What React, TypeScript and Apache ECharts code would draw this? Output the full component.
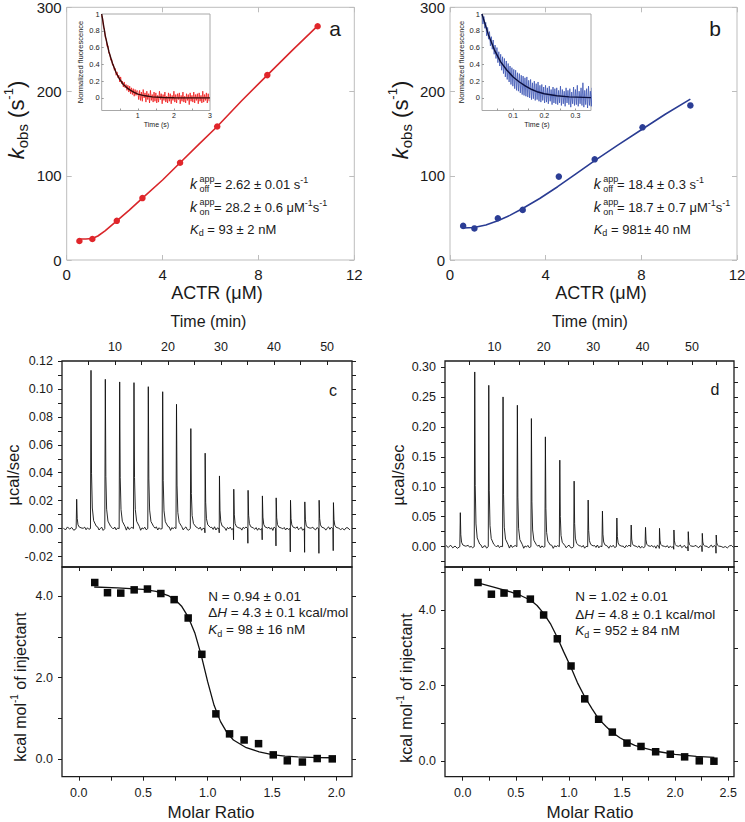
import React, { useEffect, useRef } from "react";
import * as echarts from "echarts";

const FONT = '"Liberation Sans", Arial, Helvetica, sans-serif';

// ---------- Panel a : kobs vs ACTR ----------
const actrA = [0.53, 1.07, 2.09, 3.16, 4.73, 6.28, 8.37, 10.47];
const kobsA = [22.5, 25, 46.5, 73.5, 115.5, 158.5, 219.5, 277.5];
const fitActrA = [0.53, 0.8, 1.07, 1.3, 1.6, 2.09, 2.6, 3.16, 4.0, 4.73, 5.5, 6.28, 7.3, 8.37, 9.4, 10.47];
const fitKobsA = [25, 25, 25.5, 28.5, 34.5, 46.5, 59, 73.5, 95, 115.5, 137, 158.5, 189, 219.5, 248.5, 278];

// ---------- Panel b ----------
const actrB = [0.55, 1.02, 2.0, 3.04, 4.55, 6.05, 8.05, 10.05];
const kobsB = [40.5, 37.5, 49.5, 59.5, 99, 119.5, 157.5, 183.5];
const fitActrB = [0.55, 1.0, 1.5, 2.0, 2.5, 3.0, 3.75, 4.5, 5.25, 6.05, 7.0, 8.05, 9.0, 10.05];
const fitKobsB = [38, 38.5, 41.5, 46.5, 53, 60.5, 73, 87, 102, 118, 136, 155.5, 173, 191];

// ---------- Inset a : normalized fluorescence trace (time step 0.025 s) ----------
const insetAStep = 0.025;
const insetATrace = [
  0.98, 0.95, 0.84, 0.82, 0.72, 0.70, 0.61, 0.62, 0.53, 0.52, 0.45, 0.46, 0.39, 0.40, 0.33, 0.35, 0.27, 0.31, 0.24, 0.27,
  0.19, 0.25, 0.17, 0.20, 0.13, 0.19, 0.12, 0.16, 0.09, 0.15, 0.07, 0.14, 0.05, 0.12, 0.04, 0.11, 0.02, 0.10, 0.03, 0.09,
  0.08, -0.02, 0.09, -0.03, 0.07, -0.04, 0.10, 0.00, 0.06, -0.05, 0.08, -0.02, 0.05, -0.06, 0.09, -0.03, 0.04, -0.05, 0.07, -0.04,
  0.06, -0.06, 0.03, -0.05, 0.08, -0.02, 0.05, -0.07, 0.04, -0.03, 0.07, -0.05, 0.02, -0.06, 0.06, -0.04, 0.05, -0.07, 0.03, -0.03,
  0.08, -0.05, 0.04, -0.06, 0.05, -0.02, 0.06, -0.07, 0.03, -0.04, 0.07, -0.05, 0.02, -0.06, 0.05, -0.03, 0.04, -0.08, 0.06, -0.04,
  0.03, -0.05, 0.07, -0.06, 0.04, -0.03, 0.05, -0.07, 0.06, -0.04, 0.03, -0.06, 0.08, -0.05, 0.04, -0.03, 0.06, -0.06, 0.05, -0.04,
];
const insetAFitT = [0, 0.1, 0.2, 0.3, 0.4, 0.5, 0.6, 0.7, 0.8, 0.9, 1.0, 1.2, 1.4, 1.7, 2.0, 3.0];
const insetAFitY = [1.0, 0.74, 0.55, 0.41, 0.3, 0.22, 0.16, 0.12, 0.09, 0.065, 0.045, 0.025, 0.012, 0.005, 0.002, 0];

// ---------- Inset b (time step 0.003 s) ----------
const insetBStep = 0.003;
const insetBTrace = [
  1.00, 0.88, 0.97, 0.83, 0.90, 0.74, 0.84, 0.70, 0.79, 0.62, 0.73, 0.58, 0.69, 0.52, 0.63, 0.47, 0.60, 0.42, 0.55, 0.38,
  0.52, 0.33, 0.49, 0.29, 0.47, 0.25, 0.44, 0.22, 0.41, 0.19, 0.38, 0.16, 0.36, 0.14, 0.34, 0.11, 0.33, 0.09, 0.30, 0.08,
  0.29, 0.06, 0.27, 0.04, 0.26, 0.03, 0.24, 0.02, 0.25, 0.01, 0.21, 0.00, 0.22, -0.02, 0.18, -0.01, 0.20, -0.03, 0.17, -0.02,
  0.19, -0.04, 0.15, -0.05, 0.16, -0.03, 0.13, -0.06, 0.15, -0.05, 0.12, -0.07, 0.14, -0.04, 0.10, -0.08, 0.13, -0.06, 0.11, -0.07,
  0.12, -0.08, 0.09, -0.06, 0.14, -0.09, 0.10, -0.07, 0.08, -0.10, 0.12, -0.06, 0.09, -0.08, 0.11, -0.11, 0.07, -0.07, 0.13, -0.09,
  0.10, -0.08, 0.15, -0.10, 0.08, -0.07, 0.12, -0.09, 0.18, -0.11, 0.09, -0.08, 0.11, -0.12, 0.14, -0.09, 0.08, -0.10, 0.12, -0.08,
];
const insetBFitT = [0, 0.02, 0.04, 0.06, 0.08, 0.1, 0.12, 0.14, 0.16, 0.18, 0.2, 0.24, 0.28, 0.35];
const insetBFitY = [1.0, 0.76, 0.57, 0.43, 0.33, 0.25, 0.19, 0.14, 0.1, 0.07, 0.05, 0.025, 0.012, 0.004];

// ---------- Panel c : ITC raw (injection times, peak heights, dips) ----------
const itcCTimes = [2.77, 5.47, 8.17, 10.88, 13.58, 16.28, 18.99, 21.6, 24.3, 27.0, 29.7, 32.4, 35.1, 37.8, 40.4, 43.1, 45.8, 48.5, 51.2];
const itcCPeaks = [0.021, 0.1133, 0.1069, 0.105, 0.1045, 0.1016, 0.098, 0.089, 0.0716, 0.054, 0.0377, 0.0282, 0.0274, 0.0234, 0.022, 0.0203, 0.0191, 0.0203, 0.0186];
const itcCDips = [0, 0, 0, 0, 0, 0, 0, 0, 0, -0.003, -0.003, -0.008, -0.0105, -0.008, -0.0124, -0.0167, -0.017, -0.0177, -0.0158];
const itcCNoise = [
  0.0005, -0.001, 0.0012, -0.0004, 0.0008, -0.0012, 0.0003, 0.001, -0.0008, 0.0006,
  -0.0005, 0.0012, -0.001, 0.0002, 0.0009, -0.0013, 0.0007, -0.0003, 0.0011, -0.0009,
  0.0004, -0.0011, 0.0013, -0.0006, 0.0002, 0.0009, -0.0012, 0.0005, -0.0002, 0.001,
  -0.0008, 0.0003, 0.0012, -0.001, 0.0006, -0.0004, 0.0011, -0.0013, 0.0007, -0.0001,
  0.0008, -0.0009, 0.0004, 0.0012, -0.0007, -0.0011, 0.0006, -0.0003, 0.001, -0.0012,
  0.0002, 0.0009, -0.0006, 0.0013, -0.001, 0.0005, -0.0013, 0.0008, -0.0002, 0.0011,
  -0.0007, 0.0004, -0.0011, 0.0009, 0.0001, 0.0012, -0.0005, 0.0007, -0.0012, 0.0003,
  -0.0009, 0.001, -0.0004, 0.0006, -0.0013, 0.0011, -0.0002, 0.0008, -0.001, 0.0004,
  -0.0006, 0.0013, -0.0008, 0.0002, 0.0009, -0.0012, 0.0005, 0.001, -0.0003, -0.0009,
  0.0007, -0.0011, 0.0003, 0.0012, -0.0005, 0.0009, -0.0007, 0.0001, -0.001, 0.0006,
];
// Panel c : integrated heats
const molarC = [0.124, 0.223, 0.326, 0.43, 0.533, 0.637, 0.74, 0.849, 0.955, 1.064, 1.17, 1.283, 1.395, 1.509, 1.618, 1.735, 1.85, 1.967];
const heatC = [4.33, 4.08, 4.07, 4.15, 4.17, 4.06, 3.91, 3.46, 2.57, 1.11, 0.62, 0.47, 0.38, 0.105, -0.04, -0.07, 0.015, 0.007];
const fitMolarC = [0.12, 0.3, 0.5, 0.6, 0.7, 0.75, 0.8, 0.85, 0.9, 0.95, 1.0, 1.05, 1.1, 1.15, 1.2, 1.3, 1.4, 1.5, 1.6, 1.7, 1.85, 1.97];
const fitHeatC = [4.22, 4.2, 4.16, 4.11, 4.0, 3.9, 3.74, 3.48, 3.1, 2.55, 1.9, 1.32, 0.92, 0.65, 0.47, 0.28, 0.18, 0.11, 0.075, 0.055, 0.04, 0.035];

// ---------- Panel d ----------
const itcDTimes = [3.1, 6.02, 8.86, 11.75, 14.65, 17.49, 20.32, 23.24, 26.14, 28.98, 31.87, 34.79, 37.69, 40.59, 43.42, 46.34, 49.24, 52.08, 54.9];
const itcDPeaks = [0.0567, 0.2917, 0.2694, 0.25, 0.2361, 0.2139, 0.1833, 0.1444, 0.1094, 0.0778, 0.0594, 0.0478, 0.0361, 0.0322, 0.0306, 0.0278, 0.025, 0.0222, 0.0194];
const itcDDips = [0, 0, 0, 0, 0, 0, 0, 0, 0, 0, 0, 0, 0, 0, -0.003, -0.0044, -0.0072, -0.0083, -0.011];
const itcDNoise = [
  0.002, -0.0015, 0.0025, -0.002, 0.001, -0.0028, 0.0012, 0.0022, -0.001, 0.0005,
  -0.0018, 0.0026, -0.0022, 0.0008, 0.0015, -0.0025, 0.0018, -0.0006, 0.0024, -0.0016,
  0.0006, -0.0024, 0.0028, -0.0012, 0.0004, 0.0019, -0.0027, 0.0011, -0.0005, 0.0021,
  -0.0017, 0.0007, 0.0026, -0.0021, 0.0013, -0.0009, 0.0023, -0.0028, 0.0015, -0.0003,
  0.0017, -0.0019, 0.0009, 0.0025, -0.0014, -0.0023, 0.0012, -0.0007, 0.002, -0.0026,
  0.0004, 0.0019, -0.0013, 0.0027, -0.002, 0.001, -0.0027, 0.0016, -0.0004, 0.0023,
  -0.0015, 0.0008, -0.0022, 0.0019, 0.0002, 0.0025, -0.001, 0.0014, -0.0025, 0.0006,
  -0.0019, 0.0021, -0.0008, 0.0012, -0.0027, 0.0023, -0.0004, 0.0017, -0.0021, 0.0009,
  -0.0012, 0.0027, -0.0016, 0.0004, 0.0019, -0.0025, 0.001, 0.0021, -0.0006, -0.0018,
  0.0015, -0.0023, 0.0007, 0.0025, -0.001, 0.0019, -0.0014, 0.0002, -0.0021, 0.0012,
];
const molarD = [0.144, 0.27, 0.389, 0.511, 0.637, 0.762, 0.891, 1.02, 1.149, 1.28, 1.409, 1.547, 1.679, 1.817, 1.955, 2.09, 2.228, 2.366];
const heatD = [4.73, 4.42, 4.45, 4.43, 4.29, 3.87, 3.24, 2.52, 1.65, 1.11, 0.77, 0.48, 0.39, 0.25, 0.185, 0.115, 0.01, 0.0];
const fitMolarD = [0.144, 0.3, 0.45, 0.55, 0.64, 0.7, 0.76, 0.83, 0.89, 0.95, 1.02, 1.08, 1.15, 1.22, 1.28, 1.35, 1.41, 1.48, 1.55, 1.62, 1.7, 1.85, 2.0, 2.2, 2.37];
const fitHeatD = [4.72, 4.6, 4.48, 4.38, 4.26, 4.12, 3.92, 3.62, 3.28, 2.9, 2.48, 2.08, 1.7, 1.38, 1.12, 0.92, 0.76, 0.62, 0.51, 0.42, 0.35, 0.25, 0.18, 0.13, 0.1];

// ---------- helpers ----------
const zip = (xs: number[], ys: number[]) => xs.map((x, i) => [x, ys[i]]);
const stepped = (ys: number[], step: number) => ys.map((y, i) => [+(i * step).toFixed(4), y]);

// decay shape of an injection peak after its maximum: [minutes after peak, fraction of peak]
const PEAK_TAIL = [[0.1, 0.35], [0.25, 0.13], [0.5, 0.05], [1.0, 0.015]];

function buildItcTrace(times: number[], peaks: number[], dips: number[], noise: number[], tStart: number, tEnd: number) {
  const pts: number[][] = [];
  let k = 0;
  const nz = () => noise[k++ % noise.length];
  const gap = (a: number, b: number) => {
    const n = 5;
    for (let j = 1; j <= n; j++) pts.push([a + ((b - a) * j) / (n + 1), nz()]);
  };
  pts.push([tStart, nz()]);
  let prev = tStart;
  times.forEach((t, i) => {
    gap(prev, t - 0.15);
    pts.push([t - 0.1, 0]);
    if (dips[i] < 0) pts.push([t - 0.04, dips[i]]);
    pts.push([t, peaks[i]]);
    PEAK_TAIL.forEach(([dt, f]) => pts.push([t + dt, peaks[i] * f]));
    prev = t + 1.0;
  });
  gap(prev, tEnd);
  pts.push([tEnd, nz()]);
  return pts;
}

const GRAY = "#bdbdbd";
const DARK = "#1c1c1c";
const TXT = "#1a1a1a";

function grid(left: number, top: number, width: number, height: number, color: string, bw: number, bg = "transparent") {
  return { left, top, width, height, show: true, borderColor: color, borderWidth: bw, backgroundColor: bg, containLabel: false, outerBoundsMode: "none" };
}

function axis(o: any) {
  return {
    type: "value",
    gridIndex: o.grid,
    position: o.pos,
    min: o.min,
    max: o.max,
    ...(o.interval ? { interval: o.interval } : {}),
    axisLine: { show: false, onZero: false },
    splitLine: { show: false },
    axisTick: {
      show: o.tickShow !== false,
      inside: !!o.inside,
      length: o.tickLen ?? 4,
      lineStyle: { color: o.tickColor ?? DARK, width: 1 },
      ...(o.ticks ? { customValues: o.ticks } : {}),
    },
    axisLabel: {
      show: !!o.labelShow,
      ...(o.labels ? { customValues: o.labels } : {}),
      ...(o.fmt ? { formatter: o.fmt } : {}),
      margin: o.margin ?? 6,
      color: TXT,
      fontSize: o.fontSize ?? 12,
      fontFamily: FONT,
      hideOverlap: false,
      showMinLabel: true,
      showMaxLabel: true,
    },
  };
}

function txt(x: number, y: number, text: string, o: any = {}) {
  return {
    type: "text",
    x,
    y,
    rotation: o.rotation ?? 0,
    silent: true,
    style: {
      text,
      fill: o.color ?? TXT,
      fontSize: o.fontSize ?? 13,
      fontFamily: FONT,
      fontStyle: o.fontStyle ?? "normal",
      align: o.align ?? "left",
      textAlign: o.align ?? "left",
      verticalAlign: "middle",
      textVerticalAlign: "middle",
      lineHeight: o.lineHeight ?? Math.round((o.fontSize ?? 13) * 1.3),
      rich: o.rich ?? {},
    },
  };
}

function richFor(size: number, color = TXT) {
  const lh = Math.round(size * 1.3);
  const small = Math.round(size * 0.68);
  return {
    i: { fontStyle: "italic", fontSize: size, fontFamily: FONT, fill: color, color, lineHeight: lh },
    sup: { fontSize: small, fontFamily: FONT, fill: color, color, verticalAlign: "top", lineHeight: small },
    sub: { fontSize: small, fontFamily: FONT, fill: color, color, verticalAlign: "bottom", lineHeight: small },
  };
}

function kineticAnnot(x0: number, eqX: number, y1: number, y2: number, y3: number, l1: string, l2: string, l3: string) {
  const r = richFor(13);
  const s = { fontSize: 9 };
  return [
    txt(x0, y1, "k", { fontSize: 14, fontStyle: "italic" }),
    txt(x0 + 9.5, y1 - 5, "app", s),
    txt(x0 + 9.5, y1 + 5, "off", s),
    txt(eqX, y1, l1, { rich: r }),
    txt(x0, y2, "k", { fontSize: 14, fontStyle: "italic" }),
    txt(x0 + 9.5, y2 - 5, "app", s),
    txt(x0 + 9.5, y2 + 5, "on", s),
    txt(eqX, y2, l2, { rich: r }),
    txt(x0, y3, "{i|K}{sub|d} " + l3, { rich: r }),
  ];
}

function buildOption() {
  const RED = "#e0262b";
  const RED_LINE = "#d9262a";
  const BLUE = "#2b3d95";
  const BLUE_LINE = "#2a3c93";

  const grids = [
    grid(66.7, 7.3, 287.6, 252.7, GRAY, 1), // 0 a
    grid(101.7, 14, 108.3, 96.5, "#a8a8a8", 1, "#fff"), // 1 a inset
    grid(450, 7.3, 287, 252.7, GRAY, 1), // 2 b
    grid(482, 14, 109, 96.5, "#a8a8a8", 1, "#fff"), // 3 b inset
    grid(62, 361, 290, 206, DARK, 1.3), // 4 c top
    grid(62, 567, 290, 209.7, DARK, 1.3), // 5 c bottom
    grid(445, 361, 289, 206, DARK, 1.3), // 6 d top
    grid(445, 567, 289, 209.7, DARK, 1.3), // 7 d bottom
  ];

  const fmt2 = (v: number) => v.toFixed(2);
  const fmt1 = (v: number) => v.toFixed(1);
  const insetYFmt = (v: number) => (Math.abs(v) < 1e-9 ? "0" : Math.abs(v - 1) < 1e-9 ? "1" : v.toFixed(1));

  const xAxis = [
    axis({ grid: 0, pos: "bottom", min: 0, max: 12, interval: 4, inside: true, tickLen: 5, tickColor: GRAY, labelShow: true, fontSize: 15, margin: 7 }), // 0
    axis({ grid: 0, pos: "top", min: 0, max: 12, interval: 4, inside: true, tickLen: 5, tickColor: GRAY }), // 1
    axis({ grid: 1, pos: "bottom", min: 0, max: 3, labels: [1, 2, 3], ticks: [0.5, 1, 1.5, 2, 2.5], inside: true, tickLen: 2, tickColor: "#999", labelShow: true, fontSize: 7, margin: 1 }), // 2
    axis({ grid: 2, pos: "bottom", min: 0, max: 12, interval: 4, inside: true, tickLen: 5, tickColor: GRAY, labelShow: true, fontSize: 15, margin: 7 }), // 3
    axis({ grid: 2, pos: "top", min: 0, max: 12, interval: 4, inside: true, tickLen: 5, tickColor: GRAY }), // 4
    axis({ grid: 3, pos: "bottom", min: 0, max: 0.35, labels: [0.1, 0.2, 0.3], ticks: [0.05, 0.1, 0.15, 0.2, 0.25, 0.3], inside: true, tickLen: 2, tickColor: "#999", labelShow: true, fontSize: 7, margin: 1, fmt: (v: number) => v.toFixed(1) }), // 5
    axis({ grid: 4, pos: "top", min: 0, max: 54.7, labels: [10, 20, 30, 40, 50], ticks: [5, 10, 15, 20, 25, 30, 35, 40, 45, 50], inside: true, tickLen: 4, labelShow: true, fontSize: 12.5, margin: 8 }), // 6
    axis({ grid: 5, pos: "bottom", min: -0.13, max: 2.12, labels: [0, 0.5, 1, 1.5, 2], ticks: [0, 0.25, 0.5, 0.75, 1, 1.25, 1.5, 1.75, 2], inside: false, tickLen: 4, labelShow: true, fontSize: 12.5, margin: 10, fmt: fmt1 }), // 7
    axis({ grid: 5, pos: "top", min: -0.13, max: 2.12, ticks: [0, 0.25, 0.5, 0.75, 1, 1.25, 1.5, 1.75, 2], inside: true, tickLen: 4 }), // 8
    axis({ grid: 6, pos: "top", min: 0, max: 58.5, labels: [10, 20, 30, 40, 50], ticks: [5, 10, 15, 20, 25, 30, 35, 40, 45, 50, 55], inside: true, tickLen: 4, labelShow: true, fontSize: 12.5, margin: 8 }), // 9
    axis({ grid: 7, pos: "bottom", min: -0.167, max: 2.555, labels: [0, 0.5, 1, 1.5, 2, 2.5], ticks: [0, 0.25, 0.5, 0.75, 1, 1.25, 1.5, 1.75, 2, 2.25, 2.5], inside: false, tickLen: 4, labelShow: true, fontSize: 12.5, margin: 10, fmt: fmt1 }), // 10
    axis({ grid: 7, pos: "top", min: -0.167, max: 2.555, ticks: [0, 0.25, 0.5, 0.75, 1, 1.25, 1.5, 1.75, 2, 2.25, 2.5], inside: true, tickLen: 4 }), // 11
  ];

  const cTopTicks = [-0.02, -0.01, 0, 0.01, 0.02, 0.03, 0.04, 0.05, 0.06, 0.07, 0.08, 0.09, 0.1, 0.11, 0.12];
  const dTopTicks = [-0.025, 0, 0.025, 0.05, 0.075, 0.1, 0.125, 0.15, 0.175, 0.2, 0.225, 0.25, 0.275, 0.3];

  const yAxis = [
    axis({ grid: 0, pos: "left", min: 0, max: 300, interval: 100, inside: true, tickLen: 5, tickColor: GRAY, labelShow: true, fontSize: 15, margin: 5 }), // 0
    axis({ grid: 0, pos: "right", min: 0, max: 300, interval: 100, inside: true, tickLen: 5, tickColor: GRAY }), // 1
    axis({ grid: 1, pos: "left", min: -0.15, max: 1, labels: [0, 0.2, 0.4, 0.6, 0.8, 1], ticks: [0, 0.2, 0.4, 0.6, 0.8], inside: true, tickLen: 2, tickColor: "#999", labelShow: true, fontSize: 7.5, margin: 2, fmt: insetYFmt }), // 2
    axis({ grid: 2, pos: "left", min: 0, max: 300, interval: 100, inside: true, tickLen: 5, tickColor: GRAY, labelShow: true, fontSize: 15, margin: 5 }), // 3
    axis({ grid: 2, pos: "right", min: 0, max: 300, interval: 100, inside: true, tickLen: 5, tickColor: GRAY }), // 4
    axis({ grid: 3, pos: "left", min: -0.15, max: 1, labels: [0, 0.2, 0.4, 0.6, 0.8, 1], ticks: [0, 0.2, 0.4, 0.6, 0.8], inside: true, tickLen: 2, tickColor: "#999", labelShow: true, fontSize: 7.5, margin: 2, fmt: insetYFmt }), // 5
    axis({ grid: 4, pos: "left", min: -0.0275, max: 0.12, labels: [-0.02, 0, 0.02, 0.04, 0.06, 0.08, 0.1, 0.12], ticks: cTopTicks, inside: false, tickLen: 4, labelShow: true, fontSize: 12.5, margin: 9, fmt: fmt2 }), // 6
    axis({ grid: 4, pos: "right", min: -0.0275, max: 0.12, ticks: cTopTicks, inside: false, tickLen: 4 }), // 7
    axis({ grid: 5, pos: "left", min: -0.43, max: 4.71, labels: [0, 2, 4], ticks: [0, 1, 2, 3, 4], inside: false, tickLen: 4, labelShow: true, fontSize: 12.5, margin: 9, fmt: fmt1 }), // 8
    axis({ grid: 5, pos: "right", min: -0.43, max: 4.71, ticks: [0, 1, 2, 3, 4], inside: false, tickLen: 4 }), // 9
    axis({ grid: 6, pos: "left", min: -0.034, max: 0.31, labels: [0, 0.05, 0.1, 0.15, 0.2, 0.25, 0.3], ticks: dTopTicks, inside: false, tickLen: 4, labelShow: true, fontSize: 12.5, margin: 9, fmt: fmt2 }), // 10
    axis({ grid: 6, pos: "right", min: -0.034, max: 0.31, ticks: dTopTicks, inside: false, tickLen: 4 }), // 11
    axis({ grid: 7, pos: "left", min: -0.41, max: 5.14, labels: [0, 2, 4], ticks: [0, 1, 2, 3, 4, 5], inside: false, tickLen: 4, labelShow: true, fontSize: 12.5, margin: 9, fmt: fmt1 }), // 12
    axis({ grid: 7, pos: "right", min: -0.41, max: 5.14, ticks: [0, 1, 2, 3, 4, 5], inside: false, tickLen: 4 }), // 13
  ];

  const line = (xi: number, yi: number, data: number[][], color: string, width: number, z = 2) => ({
    type: "line",
    xAxisIndex: xi,
    yAxisIndex: yi,
    data,
    symbol: "none",
    showSymbol: false,
    smooth: false,
    clip: true,
    z,
    lineStyle: { color, width },
    silent: true,
  });
  const scatter = (xi: number, yi: number, data: number[][], color: string, symbol: string, size: number) => ({
    type: "scatter",
    xAxisIndex: xi,
    yAxisIndex: yi,
    data,
    symbol,
    symbolSize: size,
    itemStyle: { color, opacity: 1 },
    z: 3,
    silent: true,
  });

  const series = [
    line(0, 0, zip(fitActrA, fitKobsA), RED_LINE, 1.6),
    scatter(0, 0, zip(actrA, kobsA), RED, "circle", 6.5),
    line(2, 2, stepped(insetATrace, insetAStep), "#f01c1c", 0.8, 4),
    line(2, 2, zip(insetAFitT, insetAFitY), "#3a0a0a", 1.4, 5),
    line(3, 3, zip(fitActrB, fitKobsB), BLUE_LINE, 1.6),
    scatter(3, 3, zip(actrB, kobsB), BLUE, "circle", 6.5),
    line(5, 5, stepped(insetBTrace, insetBStep), "#3c55b5", 0.8, 4),
    line(5, 5, zip(insetBFitT, insetBFitY), "#0b1040", 1.4, 5),
    line(6, 6, buildItcTrace(itcCTimes, itcCPeaks, itcCDips, itcCNoise, 0.25, 54.3), "#111", 0.9),
    line(7, 8, zip(fitMolarC, fitHeatC), "#111", 1.3),
    scatter(7, 8, zip(molarC, heatC), "#0a0a0a", "rect", 7.5),
    line(9, 10, buildItcTrace(itcDTimes, itcDPeaks, itcDDips, itcDNoise, 0.2, 58.4), "#111", 0.9),
    line(10, 12, zip(fitMolarD, fitHeatD), "#111", 1.3),
    scatter(10, 12, zip(molarD, heatD), "#0a0a0a", "rect", 7.5),
  ];

  const r20 = {
    i: { fontStyle: "italic", fontSize: 22, fontFamily: FONT, fill: TXT, color: TXT, lineHeight: 28 },
    sub: { fontSize: 15, fontFamily: FONT, fill: TXT, color: TXT, verticalAlign: "bottom", lineHeight: 16 },
    sup: { fontSize: 13, fontFamily: FONT, fill: TXT, color: TXT, verticalAlign: "top", lineHeight: 13 },
  };
  const r16 = {
    sup: { fontSize: 10, fontFamily: FONT, fill: TXT, color: TXT, verticalAlign: "top", lineHeight: 10 },
  };
  const r135 = richFor(13.5);

  const graphic = [
    // panel letters
    txt(335, 28, "a", { fontSize: 21, align: "center" }),
    txt(715, 28, "b", { fontSize: 21, align: "center" }),
    txt(333, 390, "c", { fontSize: 16, align: "center" }),
    txt(715, 389, "d", { fontSize: 16, align: "center" }),
    // x titles
    txt(217, 293, "ACTR (μM)", { fontSize: 18, align: "center" }),
    txt(601, 293, "ACTR (μM)", { fontSize: 18, align: "center" }),
    txt(208.5, 321.7, "Time (min)", { fontSize: 16, align: "center" }),
    txt(590, 321.7, "Time (min)", { fontSize: 16, align: "center" }),
    txt(211, 812, "Molar Ratio", { fontSize: 17, align: "center" }),
    txt(590, 812, "Molar Ratio", { fontSize: 17, align: "center" }),
    // y titles
    txt(16, 120, "{i|k}{sub|obs} (s{sup|-1})", { fontSize: 22, align: "center", rotation: Math.PI / 2, rich: r20, lineHeight: 28 }),
    txt(400, 120, "{i|k}{sub|obs} (s{sup|-1})", { fontSize: 22, align: "center", rotation: Math.PI / 2, rich: r20, lineHeight: 28 }),
    txt(13, 475, "µcal/sec", { fontSize: 16.5, align: "center", rotation: Math.PI / 2 }),
    txt(398, 475, "µcal/sec", { fontSize: 16.5, align: "center", rotation: Math.PI / 2 }),
    txt(20, 687, "kcal mol{sup|-1} of injectant", { fontSize: 16, align: "center", rotation: Math.PI / 2, rich: r16 }),
    txt(406, 688, "kcal mol{sup|-1} of injectant", { fontSize: 16, align: "center", rotation: Math.PI / 2, rich: r16 }),
    // inset titles
    txt(80, 62, "Normalized fluorescence", { fontSize: 7.5, align: "center", rotation: Math.PI / 2 }),
    txt(156.5, 124, "Time (s)", { fontSize: 7, align: "center" }),
    txt(461, 62, "Normalized fluorescence", { fontSize: 7.5, align: "center", rotation: Math.PI / 2 }),
    txt(537, 124.5, "Time (s)", { fontSize: 7, align: "center" }),
    // kinetic annotations
    ...kineticAnnot(190, 214, 184.3, 207.3, 229.3, "= 2.62 ± 0.01 s{sup|-1}", "= 28.2 ± 0.6 μM{sup|-1}s{sup|-1}", "= 93 ± 2 nM"),
    ...kineticAnnot(593.7, 617, 184.3, 207.3, 229.3, "= 18.4 ± 0.3 s{sup|-1}", "= 18.7 ± 0.7 μM{sup|-1}s{sup|-1}", "= 981± 40 nM"),
    // ITC annotations
    txt(208.3, 596, "N = 0.94 ± 0.01", { fontSize: 13.5 }),
    txt(208.3, 612.7, "Δ{i|H} = 4.3 ± 0.1 kcal/mol", { fontSize: 13.5, rich: r135 }),
    txt(208.3, 629.3, "{i|K}{sub|d} = 98 ± 16 nM", { fontSize: 13.5, rich: r135 }),
    txt(575.3, 596, "N = 1.02 ± 0.01", { fontSize: 13.5 }),
    txt(575.3, 614, "Δ{i|H} = 4.8 ± 0.1 kcal/mol", { fontSize: 13.5, rich: r135 }),
    txt(575.3, 630.5, "{i|K}{sub|d} = 952 ± 84 nM", { fontSize: 13.5, rich: r135 }),
  ];

  return {
    animation: false,
    backgroundColor: "#ffffff",
    textStyle: { fontFamily: FONT },
    grid: grids,
    xAxis,
    yAxis,
    series,
    graphic: { elements: graphic },
  };
}

export default function App() {
  const ref = useRef<HTMLDivElement>(null);
  useEffect(() => {
    if (!ref.current) return;
    const chart = echarts.init(ref.current, null, { renderer: "svg", width: 745, height: 822 });
    chart.setOption(buildOption() as any);
    return () => chart.dispose();
  }, []);
  return (
    <div
      ref={ref}
      style={{ position: "absolute", left: 0, top: 0, width: 745, height: 822, background: "#fff" }}
    />
  );
}
